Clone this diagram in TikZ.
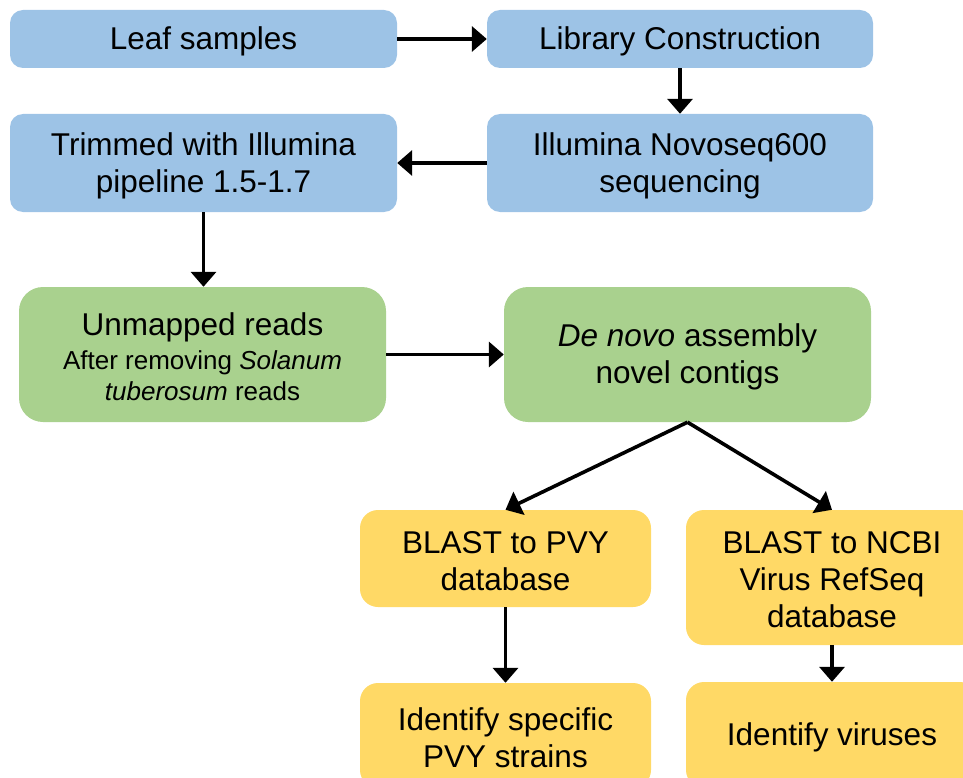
\documentclass[tikz,border=0pt]{standalone}
\usepackage{fontspec}
\setmainfont{Liberation Sans}
\usetikzlibrary{arrows.meta}
\definecolor{bblue}{HTML}{9DC3E6}
\definecolor{bgreen}{HTML}{A9D18E}
\definecolor{byellow}{HTML}{FFD966}
\tikzset{
  box/.style={rectangle, draw=none, inner sep=0pt},
  txt/.style={inner sep=0pt, align=center, yshift=-2.5pt,
    font=\fontsize{31.5}{37}\selectfont},
  bluebox/.style={box, fill=bblue, rounded corners=13pt},
  greenbox/.style={box, fill=bgreen, rounded corners=24pt},
  yellowbox/.style={box, fill=byellow, rounded corners=18pt},
  arr/.style={line width=3.6pt, -{Triangle[width=25pt,length=15pt]}}
}
\begin{document}
\begin{tikzpicture}[x=1pt,y=-1pt]
\useasboundingbox (0,0) rectangle (963,778);
\clip (0,0) rectangle (963,778);
\node[bluebox, minimum width=387pt, minimum height=58pt,
  label={[txt]center:Leaf samples}] (leaf) at (203.5,39) {};
\node[bluebox, minimum width=386pt, minimum height=58pt,
  label={[txt]center:Library Construction}] (lib) at (680,39) {};
\node[bluebox, minimum width=387pt, minimum height=98pt,
  label={[txt]center:{Trimmed with Illumina\\pipeline 1.5-1.7}}] (trim) at (203.5,163) {};
\node[bluebox, minimum width=386pt, minimum height=98pt,
  label={[txt]center:{Illumina Novoseq600\\sequencing}}] (illu) at (680,163) {};
\node[greenbox, minimum width=367pt, minimum height=135pt,
  label={[txt]center:{Unmapped reads\\[-3pt]
   \fontsize{26}{31}\selectfont After removing \textit{Solanum}\\[-6pt]
   \fontsize{26}{31}\selectfont \textit{tuberosum} reads}}] (unm) at (202.5,354.5) {};
\node[greenbox, minimum width=367pt, minimum height=135pt,
  label={[txt]center:{\textit{De novo} assembly\\novel contigs}}] (den) at (687.5,354.5) {};
\node[yellowbox, minimum width=291pt, minimum height=97pt,
  label={[txt]center:{BLAST to PVY\\database}}] (bpvy) at (505.5,558.5) {};
\node[yellowbox, minimum width=292pt, minimum height=135pt,
  label={[txt]center:{BLAST to NCBI\\Virus RefSeq\\database}}] (bnc) at (832,577.5) {};
\node[yellowbox, minimum width=291pt, minimum height=105pt,
  label={[txt]center:{Identify specific\\PVY strains}}] (idp) at (505.5,735.5) {};
\node[yellowbox, minimum width=292pt, minimum height=106pt,
  label={[txt]center:Identify viruses}] (idv) at (832,735) {};
\draw[arr] (leaf.east) -- (lib.west);
\draw[arr] (lib.south) -- (illu.north);
\draw[arr] (illu.west) -- (trim.east);
\draw[arr] (trim.south) -- (trim.south |- unm.north);
\draw[arr] (unm.east) -- (den.west);
\draw[arr] (den.south) -- (bpvy.north);
\draw[arr] (den.south) -- (bnc.north);
\draw[arr] (bpvy.south) -- (idp.north);
\draw[arr] (bnc.south) -- (idv.north);
\end{tikzpicture}
\end{document}
